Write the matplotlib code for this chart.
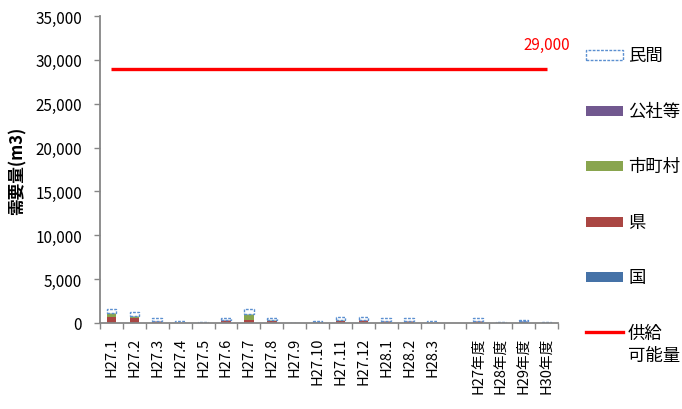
import matplotlib
matplotlib.use("Agg")
import matplotlib.pyplot as plt
from matplotlib.patches import Rectangle
from matplotlib.lines import Line2D
import numpy as np

plt.rcParams['font.family'] = ['Noto Sans CJK JP', 'DejaVu Sans']

categories = ["H27.1", "H27.2", "H27.3", "H27.4", "H27.5", "H27.6", "H27.7", "H27.8",
              "H27.9", "H27.10", "H27.11", "H27.12", "H28.1", "H28.2", "H28.3", "",
              "H27年度", "H28年度", "H29年度", "H30年度"]
kuni = [0, 0, 0, 50, 30, 0, 0, 0, 0, 60, 0, 0, 0, 0, 50, 0, 0, 0, 150, 40]
ken = [700, 540, 260, 0, 0, 300, 380, 250, 0, 0, 250, 350, 280, 280, 0, 0, 200, 0, 0, 0]
shichoson = [400, 230, 0, 0, 0, 0, 650, 50, 0, 0, 100, 0, 0, 0, 0, 0, 80, 0, 0, 0]
kosha = [0, 0, 0, 0, 0, 0, 0, 0, 0, 0, 0, 0, 0, 0, 0, 0, 0, 0, 100, 0]
minkan = [550, 460, 300, 150, 100, 250, 570, 300, 50, 150, 350, 350, 280, 280, 200, 0,
          300, 100, 50, 120]
supply = 29000
supply_label = "29,000"
yticks = [0, 5000, 10000, 15000, 20000, 25000, 30000, 35000]

series_names = ["国", "県", "市町村", "公社等"]
series_vals = [kuni, ken, shichoson, kosha]
colors = ["#4572A7", "#AA4643", "#89A54E", "#71588F"]
minkan_color = "#5B8FD0"

W, H = 682, 410
fig = plt.figure(figsize=(W / 100, H / 100), dpi=100)
ax = fig.add_axes([100 / W, 1 - 324 / H, 458 / W, 307 / H])

x = np.arange(len(categories))
bw = 0.42
bottom = np.zeros(len(categories))
for vals, col in zip(series_vals, colors):
    v = np.array(vals, dtype=float)
    idx = v > 0
    ax.bar(x[idx], v[idx], bw, bottom=bottom[idx], color=col, linewidth=0, zorder=2)
    bottom += v
mv = np.array(minkan, dtype=float)
idx = mv > 0
ax.bar(x[idx], mv[idx], bw, bottom=bottom[idx], facecolor="white", edgecolor=minkan_color,
       linestyle=(0, (2, 1)), linewidth=1.0, zorder=2)

ax.plot([x[0], x[-1]], [supply, supply], color="#FF0000", lw=2.4, zorder=3, solid_capstyle="butt")
ax.annotate(supply_label, xy=(x[-1], supply), xytext=(0, 11), textcoords="offset points",
            ha="center", va="bottom", color="#FF0000", fontsize=11)

ax.set_xlim(-0.5, len(categories) - 0.5)
ax.set_ylim(0, 35000)
ax.set_yticks(yticks)
ax.set_yticklabels([f"{t:,}" for t in yticks], fontsize=11)
ax.set_xticks(x)
ax.set_xticklabels(categories, rotation=90, fontsize=10.5)
ax.set_xticks(np.arange(-0.5, len(categories)), minor=True)
ax.tick_params(axis="x", which="major", length=0, pad=10)
ax.tick_params(axis="x", which="minor", length=4.5, color="#868686", width=1)
ax.tick_params(axis="y", length=4, color="#868686", width=1, pad=9)

for s in ["top", "right"]:
    ax.spines[s].set_visible(False)
for s in ["left", "bottom"]:
    ax.spines[s].set_color("#868686")
    ax.spines[s].set_linewidth(1.3)

ax.set_ylabel("需要量(m3)", fontsize=12, fontweight="bold", labelpad=6)

# legend (manual)
leg_items = [("民間", None), ("公社等", colors[3]), ("市町村", colors[2]),
             ("県", colors[1]), ("国", colors[0])]
ycent = [55.5, 111.5, 167, 223, 278]
for (lab, col), yc in zip(leg_items, ycent):
    if col is None:
        r = Rectangle((586 / W, 1 - (yc + 5) / H), 37 / W, 10 / H, transform=fig.transFigure,
                      facecolor="white", edgecolor=minkan_color, linestyle=(0, (2, 1)), lw=1.0)
    else:
        r = Rectangle((586 / W, 1 - (yc + 5) / H), 37 / W, 10 / H, transform=fig.transFigure,
                      facecolor=col, edgecolor="none")
    fig.patches.append(r)
    fig.text(628 / W, 1 - yc / H, lab, fontsize=12.5, va="center", ha="left")
fig.lines.append(Line2D([586 / W, 623 / W], [1 - 333 / H, 1 - 333 / H], transform=fig.transFigure,
                        color="#FF0000", lw=2.4))
fig.text(628 / W, 1 - 334 / H, "供給", fontsize=12.5, va="center", ha="left")
fig.text(628 / W, 1 - 356 / H, "可能量", fontsize=12.5, va="center", ha="left")

fig.savefig("out.png", dpi=100)
